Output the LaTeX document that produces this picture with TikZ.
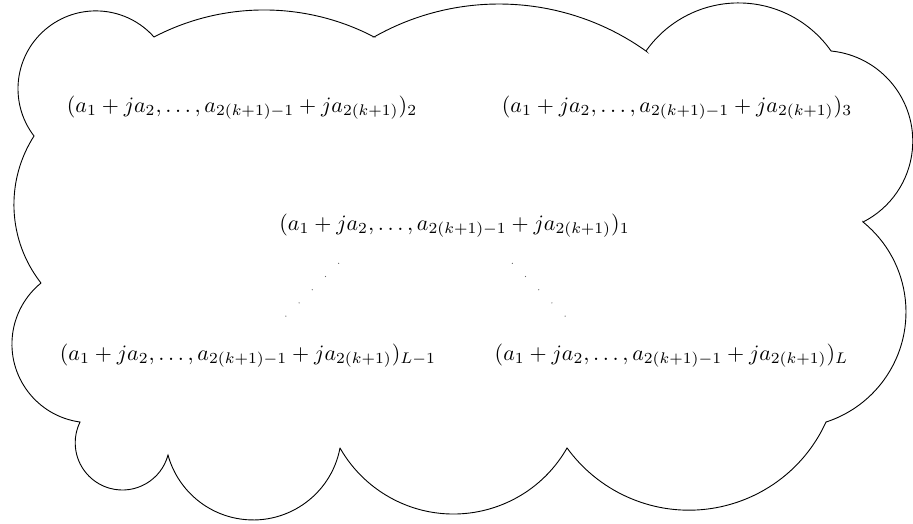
\documentclass[tikz,border=0pt]{standalone}
\usepackage{amsmath}
\begin{document}
\begin{tikzpicture}[x=1pt,y=1pt,
  cloudline/.style={draw=black,line width=0.9pt,line join=miter},
  lbl/.style={anchor=base,scale=2.2,inner sep=0pt},
  dotline/.style={draw=black!60,line width=1pt,dash pattern=on 0.9pt off 17.77pt}]
\path[fill=white,use as bounding box] (0,0) rectangle (913,-523);
% cusps of the cloud
\coordinate (P1) at (34,-136);
\coordinate (P2) at (154,-37);
\coordinate (P3) at (374,-37);
\coordinate (P4) at (646,-51);
\coordinate (P5) at (831,-51);
\coordinate (P6) at (863,-222);
\coordinate (P7) at (826,-422);
\coordinate (P8) at (567,-448);
\coordinate (P9) at (340,-448);
\coordinate (P10) at (168,-455);
\coordinate (P11) at (80,-422);
\coordinate (P12) at (41,-283);
\draw[cloudline]
  (P1)  arc[start angle=-142.6, end angle=-318.4, radius=77.84]
  -- (P2)  arc[start angle=117.6,  end angle=62.4,   radius=237.6]
  -- (P3)  arc[start angle=119.57, end angle=54.5,   radius=253.3]
  -- (P4)  arc[start angle=144.9,  end angle=35.1,   radius=113.1]
  -- (P5)  arc[start angle=84.4,   end angle=-63.2,  radius=90.6]
  -- (P6)  arc[start angle=51.06,  end angle=-72.0,  radius=115.7]
  -- (P7)  arc[start angle=-24.5,  end angle=-144.0, radius=150.6]
  -- (P8)  arc[start angle=-29.65, end angle=-150.35,radius=130.6]
  -- (P9)  arc[start angle=-10.7,  end angle=-164.64,radius=88.35]
  -- (P10) arc[start angle=-14.98, end angle=-206.13,radius=47.2]
  -- (P11) arc[start angle=-97.74, end angle=-230.9, radius=78.65]
  -- (P12) arc[start angle=-141.9, end angle=-212.65,radius=127.1]
  -- cycle;
% labels
\node[lbl] (n2) at (242,-112) {$(a_1+ja_2,\dots,a_{2(k+1)-1}+ja_{2(k+1)})_2$};
\node[lbl] (n3) at (677,-112) {$(a_1+ja_2,\dots,a_{2(k+1)-1}+ja_{2(k+1)})_3$};
\node[lbl] (n1) at (454.5,-230) {$(a_1+ja_2,\dots,a_{2(k+1)-1}+ja_{2(k+1)})_1$};
\node[lbl] (nL1) at (248,-360) {$(a_1+ja_2,\dots,a_{2(k+1)-1}+ja_{2(k+1)})_{L-1}$};
\node[lbl] (nL) at (671.5,-360) {$(a_1+ja_2,\dots,a_{2(k+1)-1}+ja_{2(k+1)})_L$};
% dotted connectors
\coordinate (d1a) at (339,-263);
\coordinate (d1b) at (273,-329);
\coordinate (d2a) at (512,-263);
\coordinate (d2b) at (578,-329);
\draw[dotline] (d1a) -- (d1b);
\draw[dotline] (d2a) -- (d2b);
\end{tikzpicture}
\end{document}
